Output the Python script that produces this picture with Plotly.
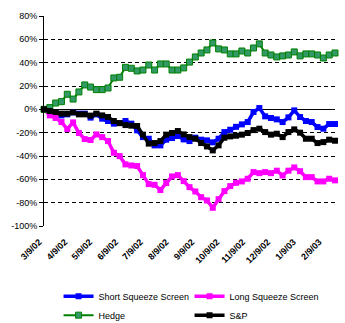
import pandas as pd
import plotly.graph_objects as go

# Weekly observation dates
dates = pd.date_range("2002-03-09", periods=51, freq="7D")

# Cumulative returns (%)
short_squeeze = [0, -2.3, -3.2, -5.2, -4.3, -2.6, -3.7, -3.7, -7.1, -4.3,
                 -8.0, -10.0, -12.3, -11.8, -10.0, -12.3, -18.0, -23.8, -25.2, -30.9,
                 -30.9, -26.0, -24.6, -22.9, -25.8, -27.2, -24.3, -26.0, -26.6, -28.3,
                 -25.2, -19.5, -17.5, -15.0, -12.9, -10.9, -2.3, 1.1, -6.0, -7.4,
                 -8.6, -10.9, -6.9, -0.9, -6.6, -10.0, -10.9, -15.2, -16.6, -12.6,
                 -12.6]
long_squeeze = [0, -5.2, -7.4, -10.9, -16.9, -11.2, -20.3, -25.5, -26.3, -21.5,
                -23.8, -27.2, -37.2, -40.1, -47.2, -48.1, -48.6, -56.4, -64.1, -64.7,
                -69.2, -63.2, -57.5, -56.4, -61.5, -66.7, -70.4, -75.3, -78.1, -84.4,
                -77.0, -70.1, -65.8, -63.0, -61.8, -59.5, -53.8, -54.7, -53.8, -54.7,
                -52.6, -56.7, -52.6, -49.8, -53.0, -58.1, -58.1, -61.8, -61.8, -59.5,
                -60.9]
hedge = [0, 1.5, 5.4, 6.6, 12.9, 8.8, 14.9, 20.9, 19.1, 16.9,
         16.9, 18.3, 26.9, 27.5, 36.0, 35.2, 32.9, 33.7, 38.0, 33.7,
         38.9, 38.9, 33.7, 33.7, 35.5, 40.5, 44.9, 48.3, 50.9, 56.9,
         51.8, 50.9, 47.5, 47.5, 50.0, 48.3, 52.6, 56.1, 48.3, 46.6,
         44.9, 45.8, 46.6, 49.2, 45.8, 47.5, 47.5, 46.6, 44.0, 46.6,
         48.3]
sp500 = [0, -1.4, -2.3, -3.7, -3.7, -2.6, -4.3, -4.3, -5.4, -3.7,
         -5.2, -6.6, -10.0, -11.8, -13.5, -14.0, -14.3, -21.7, -29.4, -28.9,
         -27.2, -21.7, -20.3, -18.6, -21.5, -23.8, -25.2, -28.9, -31.8, -35.2,
         -30.9, -24.3, -23.2, -22.6, -21.7, -20.3, -17.8, -16.6, -19.5, -21.7,
         -20.9, -23.8, -19.5, -17.2, -20.0, -25.2, -25.2, -28.9, -28.1, -26.0,
         -26.9]

# Axis labels
x_tick_dates = ["2002-03-09", "2002-04-09", "2002-05-09", "2002-06-09", "2002-07-09",
                "2002-08-09", "2002-09-09", "2002-10-09", "2002-11-09", "2002-12-09",
                "2003-01-09", "2003-02-09"]
x_tick_text = ["3/9/02", "4/9/02", "5/9/02", "6/9/02", "7/9/02", "8/9/02",
               "9/9/02", "10/9/02", "11/9/02", "12/9/02", "1/9/03", "2/9/03"]
y_ticks = [80, 60, 40, 20, 0, -20, -40, -60, -80, -100]
y_tick_text = ["80%", "60%", "40%", "20%", "0%", "-20%", "-40%", "-60%", "-80%", "-100%"]

FONT = "Liberation Sans, Arial, sans-serif"

fig = go.Figure()


def add_series(name, values, color, width, msize, fill=None, edge=None):
    fig.add_trace(go.Scatter(
        x=dates, y=values, name=name, mode="lines+markers",
        line=dict(color=color, width=width),
        marker=dict(symbol="square", size=msize, color=fill or color,
                    line=dict(color=edge or color, width=1 if edge else 0)),
        cliponaxis=False,
    ))


add_series("Short Squeeze Screen", short_squeeze, "#0000FF", 3.5, 6)
add_series("Long Squeeze Screen", long_squeeze, "#FF00FF", 3.5, 6)
add_series("Hedge", hedge, "#008000", 2, 6, fill="#339966", edge="#008000")
add_series("S&P", sp500, "#000000", 3.5, 6)

fig.update_layout(
    width=345, height=323,
    margin=dict(l=44, r=10, t=16, b=97, pad=0, autoexpand=False),
    paper_bgcolor="white", plot_bgcolor="white",
    font=dict(family=FONT, size=9, color="black"),
    showlegend=True,
    legend=dict(
        orientation="h", x=0.05, xanchor="left", y=-0.265, yanchor="top",
        entrywidth=86, entrywidthmode="pixels",
        font=dict(family=FONT, size=9, color="black"),
        itemwidth=30, tracegroupgap=0, bgcolor="rgba(0,0,0,0)",
    ),
)

fig.update_xaxes(
    type="date", automargin=False,
    range=[dates[0], dates[-1]],
    tickmode="array", tickvals=x_tick_dates, ticktext=x_tick_text,
    tickangle=-45, ticks="", showgrid=False, showline=False, zeroline=False,
    tickfont=dict(family=FONT, size=9, color="black", weight="bold"),
    ticklabelstandoff=8, ticklabelshift=-5,
)

fig.update_yaxes(
    automargin=False,
    range=[-100, 80],
    tickmode="array", tickvals=y_ticks, ticktext=y_tick_text,
    ticks="outside", ticklen=4, tickcolor="black", tickwidth=1,
    showline=True, linecolor="black", linewidth=1,
    showgrid=True, gridcolor="black", gridwidth=1, griddash="4px,3px",
    zeroline=True, zerolinecolor="black", zerolinewidth=1,
    tickfont=dict(family=FONT, size=9, color="black"),
)

fig.write_html("out.html")
